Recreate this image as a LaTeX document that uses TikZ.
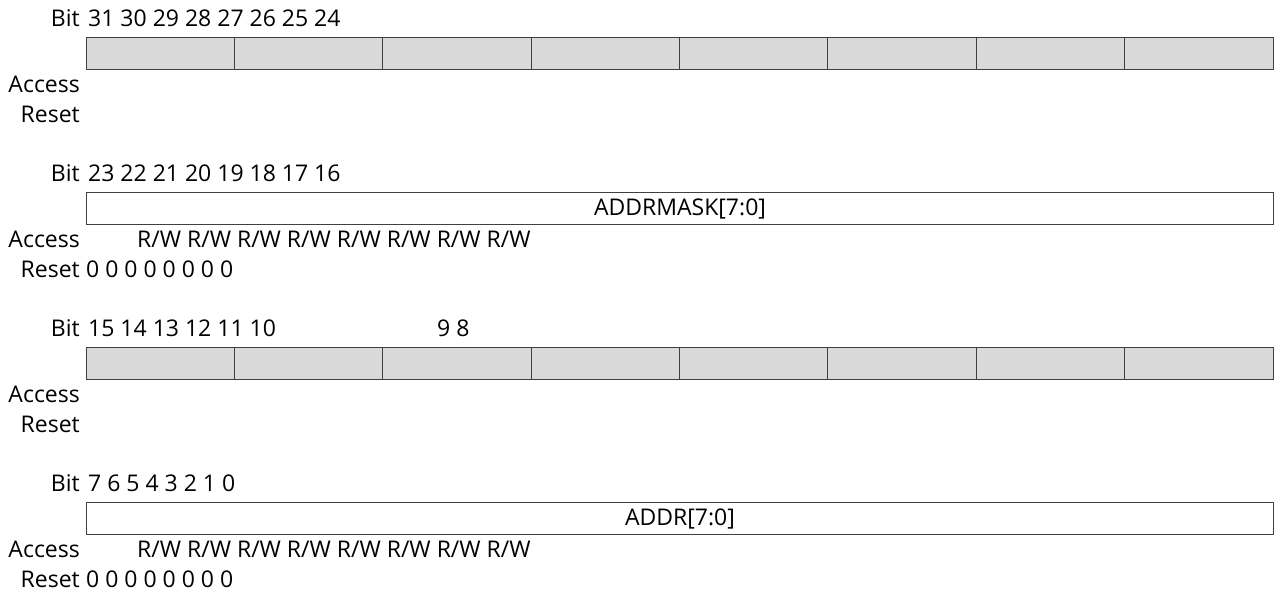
\documentclass[tikz,border=0pt]{standalone}
\usepackage{fontspec}
\setmainfont{Open Sans}
\begin{document}
\begin{tikzpicture}[x=1pt,y=-1pt,font=\fontsize{23}{26}\selectfont,
  lbl/.style={anchor=east,inner sep=0pt},
  txt/.style={anchor=west,inner sep=0pt},
  cell/.style={draw=black!75,fill=black!15,line width=1pt},
  field/.style={draw=black!75,fill=white,line width=1pt}]
\useasboundingbox (0,0) rectangle (1276,592);

%Row labels
\foreach \r/\y in {1/18,2/173,3/328,4/483}{
  \node[lbl] (bit\r) at (80,\y) {Bit};
  \node[lbl] (access\r) at (80,\y+66) {Access};
  \node[lbl] (reset\r) at (80,\y+96) {Reset};
}

%Reserved rows
\foreach \r/\y in {1/37,3/347}{
  \foreach \i in {0,...,7}
    \draw[cell] (86+\i*148.375,\y) rectangle (86+\i*148.375+148.375,\y+32);
}

%Fields
\node[field,minimum width=1187pt,minimum height=32pt,anchor=north west] (addrmask) at (86,192) {ADDRMASK[7:0]};
\node[field,minimum width=1187pt,minimum height=32pt,anchor=north west] (addr) at (86,502) {ADDR[7:0]};

%Bit numbers
\node[txt] (bits1) at (88,18) {31 30 29 28 27 26 25 24};
\node[txt] (bits2) at (88,173) {23 22 21 20 19 18 17 16};
\node[txt] (bits3) at (88,328) {15 14 13 12 11 10};
\node[txt] (bits3b) at (437,328) {9 8};
\node[txt] (bits4) at (88,483) {7 6 5 4 3 2 1 0};

%Access and reset
\foreach \r/\y in {2/173,4/483}{
  \node[txt] (rw\r) at (137,\y+66) {R/W R/W R/W R/W R/W R/W R/W R/W};
  \node[txt] (zero\r) at (86,\y+96) {0 0 0 0 0 0 0 0};
}
\end{tikzpicture}
\end{document}
